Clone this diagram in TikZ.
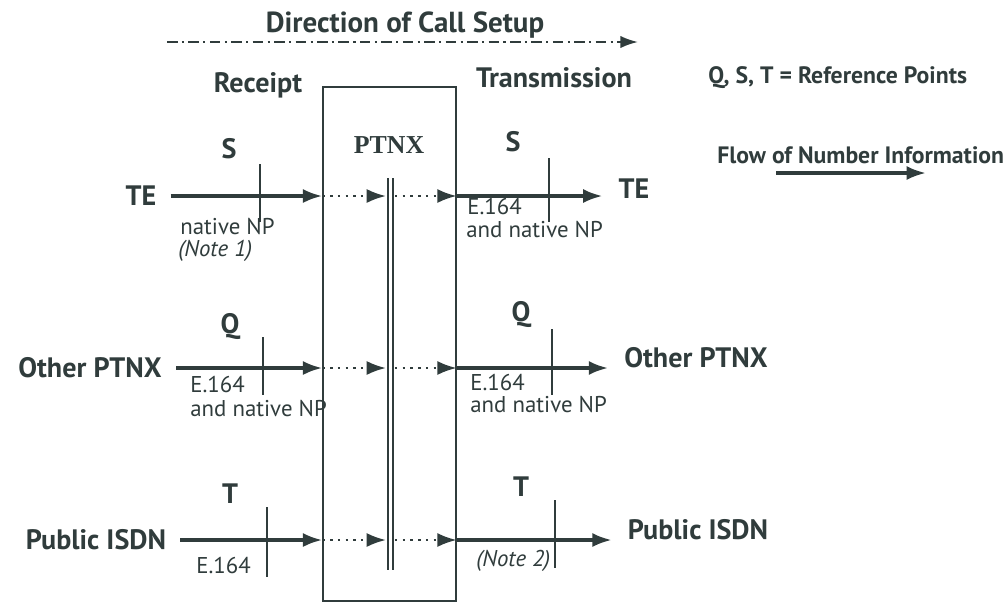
\documentclass[tikz,border=0pt]{standalone}
\usepackage{fontspec}
\setmainfont{PT Sans}
\newfontfamily\ptnxfont{Liberation Serif}
\usetikzlibrary{arrows.meta}
\definecolor{ink}{RGB}{48,60,60}

\begin{document}
\begin{tikzpicture}[x=0.02cm, y=-0.02cm,
    big/.style={font=\bfseries\fontsize{16}{18}\selectfont, text=ink, inner sep=0pt},
    note/.style={font=\bfseries\fontsize{13.5}{15}\selectfont, text=ink, inner sep=0pt, anchor=west},
    small/.style={font=\fontsize{13}{15}\selectfont, text=ink, inner sep=0pt, anchor=west},
    flow/.style={draw=ink, line width=1.9pt, -{Latex[length=11pt,width=8pt]}},
    inside/.style={draw=ink, line width=1.4pt, dash pattern=on 1.4pt off 3pt, -{Latex[length=11pt,width=8pt]}},
    refmark/.style={draw=ink, line width=0.8pt}]
    \useasboundingbox (0,0) rectangle (1004,603);

    % Heading and legend
    \node[big, font=\bfseries\fontsize{16.5}{18}\selectfont] (setup) at (405,25) {Direction of Call Setup};
    \coordinate (setup start) at (167,42);
    \coordinate (setup end) at (638,42);
    \draw[draw=ink, line width=1.2pt, dash pattern=on 6pt off 2.5pt on 1.2pt off 2.5pt,
        -{Latex[length=10pt,width=7pt]}] (setup start) -- (setup end);
    \node[big] (receipt) at (258,85) {Receipt};
    \node[big] (transmission) at (554,78) {Transmission};
    \node[note] (refpts) at (708,78) {Q, S, T = Reference Points};
    \node[note] (legend) at (717,155) {Flow of Number Information};
    \coordinate (legend start) at (776,173);
    \coordinate (legend end) at (926,173);
    \draw[flow] (legend start) -- (legend end);

    % PTNX box
    \node[draw=ink, line width=0.8pt, minimum width=2.66cm, minimum height=10.28cm, inner sep=0pt] (box) at (389.5,344) {};
    \node[font=\ptnxfont\bfseries\fontsize{14.7}{16}\selectfont, text=ink] (ptnx) at (389,145) {PTNX};
    \draw[refmark] (388,178) -- (388,570);
    \draw[refmark] (393,178) -- (393,570);

    % Row 1: TE
    \node[big] (te in) at (141,196) {TE};
    \node[big] (te out) at (634,189) {TE};
    \node[big] (s in) at (229,149) {S};
    \node[big] (s out) at (513,142) {S};
    \draw[flow, shorten <=8pt] (te in) -- (box.west |- te in);
    \draw[inside] (box.west |- te in) -- (386,196);
    \draw[inside] (395,196) -- (box.east |- te in);
    \draw[flow] (box.east |- te in) -- ([xshift=-9pt]te out.west |- te in);
    \draw[refmark] (260,164) -- (260,222);
    \draw[refmark] (549,158) -- (549,222);
    \node[small] (np1) at (180,227) {native NP};
    \node[small, font=\itshape\fontsize{13}{15}\selectfont] (note1) at (178,251) {(Note 1)};
    \node[small] (e1) at (467,206) {E.164};
    \node[small] (np2) at (466,230) {and native NP};

    % Row 2: Other PTNX
    \node[big] (pbx in) at (90,368) {Other PTNX};
    \node[big] (pbx out) at (696,358) {Other PTNX};
    \node[big] (q in) at (230,326) {Q};
    \node[big] (q out) at (521,314) {Q};
    \draw[flow, shorten <=8pt] (pbx in) -- (box.west |- pbx in);
    \draw[inside] (box.west |- pbx in) -- (386,368);
    \draw[inside] (395,368) -- (box.east |- pbx in);
    \draw[flow] (box.east |- pbx in) -- ([xshift=-9pt]pbx out.west |- pbx in);
    \draw[refmark] (263,337) -- (263,395);
    \draw[refmark] (552,329) -- (552,395);
    \node[small] (e2) at (190,384) {E.164};
    \node[small] (np3) at (190,409) {and native NP};
    \node[small] (e3) at (470,382) {E.164};
    \node[small] (np4) at (470,405) {and native NP};

    % Row 3: Public ISDN
    \node[big] (isdn in) at (96,540) {Public ISDN};
    \node[big] (isdn out) at (698,530) {Public ISDN};
    \node[big] (t in) at (230,494) {T};
    \node[big] (t out) at (521,487) {T};
    \draw[flow, shorten <=8pt] (isdn in) -- (box.west |- isdn in);
    \draw[inside] (box.west |- isdn in) -- (386,540);
    \draw[inside] (395,540) -- (box.east |- isdn in);
    \draw[flow] (box.east |- isdn in) -- ([xshift=-9pt]isdn out.west |- isdn in);
    \draw[refmark] (267,507) -- (267,577);
    \draw[refmark] (555,500) -- (555,568);
    \node[small] (e4) at (196,565) {E.164};
    \node[small, font=\itshape\fontsize{13}{15}\selectfont] (note2) at (476,561) {(Note 2)};
\end{tikzpicture}
\end{document}
